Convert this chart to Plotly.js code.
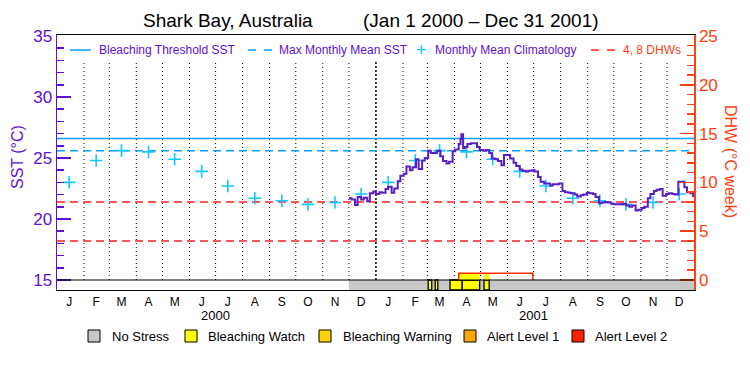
<!DOCTYPE html>
<html><head><meta charset="utf-8">
<script src="https://cdn.plot.ly/plotly-3.0.1.min.js"></script>
<style>html,body{margin:0;padding:0;background:#fff}</style>
</head><body><div id="chart" style="width:750px;height:375px"></div>
<script>
// ---------- data ----------
const years = [2000, 2001];
const monthLabels = ['J','F','M','A','M','J','J','A','S','O','N','D','J','F','M','A','M','J','J','A','S','O','N','D'];
const climValues = [23.0, 24.8, 25.6, 25.5, 24.9, 23.9, 22.7, 21.7, 21.5, 21.2, 21.35, 22.05];
const maxMonthlyMean = 25.6;
const bleachingThreshold = 26.6;
const dhwLevels = [4, 8];

const sstDates = ['2000-12-01','2000-12-04','2000-12-08','2000-12-11','2000-12-15','2000-12-18','2000-12-22','2000-12-25','2000-12-29',
'2001-01-01','2001-01-05','2001-01-08','2001-01-12','2001-01-15','2001-01-19','2001-01-22','2001-01-26','2001-01-29',
'2001-02-02','2001-02-05','2001-02-09','2001-02-12','2001-02-16','2001-02-19','2001-02-23','2001-02-26',
'2001-03-02','2001-03-05','2001-03-09','2001-03-12','2001-03-16','2001-03-19','2001-03-23','2001-03-26','2001-03-30',
'2001-04-02','2001-04-06','2001-04-08','2001-04-09','2001-04-11','2001-04-13','2001-04-16','2001-04-20','2001-04-23','2001-04-27','2001-04-30',
'2001-05-04','2001-05-07','2001-05-11','2001-05-14','2001-05-18','2001-05-21','2001-05-25','2001-05-28',
'2001-06-01','2001-06-04','2001-06-08','2001-06-11','2001-06-15','2001-06-18','2001-06-22','2001-06-25','2001-06-29',
'2001-07-02','2001-07-06','2001-07-09','2001-07-13','2001-07-16','2001-07-20','2001-07-23','2001-07-27','2001-07-30',
'2001-08-03','2001-08-06','2001-08-10','2001-08-13','2001-08-17','2001-08-20','2001-08-24','2001-08-27','2001-08-31',
'2001-09-03','2001-09-07','2001-09-10','2001-09-14','2001-09-17','2001-09-21','2001-09-24','2001-09-28',
'2001-10-01','2001-10-05','2001-10-08','2001-10-12','2001-10-15','2001-10-19','2001-10-22','2001-10-26','2001-10-29',
'2001-11-02','2001-11-05','2001-11-09','2001-11-12','2001-11-16','2001-11-19','2001-11-23','2001-11-26','2001-11-30',
'2001-12-03','2001-12-07','2001-12-10','2001-12-14','2001-12-17','2001-12-21','2001-12-24','2001-12-28','2001-12-31'];
const sstValues = [21.7,21.6,21.15,21.8,21.6,21.75,21.45,22.1,22.25,
22.05,22.2,22.15,22.45,22.65,22.15,22.5,23.1,23.55,
23.7,24.3,24.0,24.25,24.9,24.1,24.8,25.0,
25.6,25.4,25.4,25.6,25.15,24.75,24.55,24.7,25.55,
25.7,26.15,26.55,26.95,25.8,25.9,26.15,26.2,26.2,25.9,25.65,
25.6,25.65,25.4,24.95,24.9,24.75,24.4,25.25,
25.25,24.95,24.6,24.35,24.05,23.95,23.9,23.95,24.0,
23.9,23.45,23.05,22.9,22.9,22.75,22.85,22.85,22.9,
22.3,22.2,22.15,22.1,22.0,21.85,21.95,22.0,22.15,
22.1,22.05,21.8,21.3,21.35,21.4,21.35,21.25,
21.2,21.2,21.2,21.25,21.1,21.0,21.1,20.7,20.75,
20.9,21.0,21.7,22.05,22.3,22.4,22.45,21.9,22.05,
22.1,22.05,22.0,23.05,23.05,22.6,22.2,22.1,21.8];

// stress level periods (0 = no stress, 1 = bleaching watch)
const stressStart = ['2000-12-01','2001-03-02','2001-03-10','2001-03-27','2001-04-10','2001-05-05'];
const stressEnd   = ['2002-01-01','2001-03-06','2001-03-13','2001-04-10','2001-04-30','2001-05-11'];
const stressLevel = [0, 1, 1, 1, 1, 1];

// degree heating weeks
const dhwDates = ['2001-04-05','2001-04-06','2001-06-30'];
const dhwValues = [0, 0.7, 0];
const dhwFillStart = ['2001-04-06','2001-05-05'];
const dhwFillEnd = ['2001-04-30','2001-05-11'];
const dhwFillValue = [0.7, 0.7];

const legendNames = ['No Stress','Bleaching Watch','Bleaching Warning','Alert Level 1','Alert Level 2'];
const legendColors = ['#c8c8c8','#ffff00','#ffd200','#ffa500','#ff2000'];

// ---------- styling ----------
const PURPLE = '#6010d0';
const LINE_PURPLE = '#5a1ec8';
const RED = '#ff4010';
const BLUE = '#0aa0ff';
const CYAN = '#10c8ff';
const FONT = 'Liberation Sans, Arial, sans-serif';
const yRange = [14.18, 35.08];
const y2Range = [-1.025, 25.1];

const pad = n => String(n).padStart(2,'0');
const monthMids = [], monthStarts = [];
years.forEach(y => { for (let m = 1; m <= 12; m++) { monthMids.push(y + '-' + pad(m) + '-15'); monthStarts.push(y + '-' + pad(m) + '-01'); } });
const climDates = monthMids;
const climAll = climValues.concat(climValues);
const ms = (a, b) => new Date(b) - new Date(a);

const traces = [];
const xFull = ['2000-01-01','2002-01-01'];
traces.push({x: xFull, y: [bleachingThreshold, bleachingThreshold], type:'scatter', mode:'lines', line:{color:BLUE, width:1.5}, hoverinfo:'skip'});
traces.push({x: xFull, y: [maxMonthlyMean, maxMonthlyMean], type:'scatter', mode:'lines', line:{color:BLUE, width:1.5, dash:'8px,5px'}, hoverinfo:'skip'});
traces.push({x: climDates, y: climAll, type:'scatter', mode:'markers', marker:{symbol:'cross-thin', size:9, line:{color:CYAN, width:1.6}}});
traces.push({x: sstDates, y: sstValues, type:'scatter', mode:'lines', line:{color:LINE_PURPLE, width:2, shape:'hv'}});

const noIdx = stressLevel.map((l,i)=>i).filter(i=>stressLevel[i]===0);
const wIdx = stressLevel.map((l,i)=>i).filter(i=>stressLevel[i]===1);
traces.push({type:'bar', yaxis:'y2', x: noIdx.map(i=>stressStart[i]), width: noIdx.map(i=>ms(stressStart[i], stressEnd[i])), offset:0,
  base: y2Range[0], y: noIdx.map(()=> -y2Range[0]), marker:{color:legendColors[0], line:{width:0}}});
traces.push({type:'bar', yaxis:'y2', x: wIdx.map(i=>stressStart[i]), width: wIdx.map(i=>ms(stressStart[i], stressEnd[i])), offset:0,
  base: y2Range[0], y: wIdx.map(()=> -y2Range[0]), marker:{color:legendColors[1], line:{width:1.3, color:'black'}}});
traces.push({type:'bar', yaxis:'y2', x: dhwFillStart, width: dhwFillStart.map((s,i)=>ms(s, dhwFillEnd[i])), offset:0,
  base: 0, y: dhwFillValue, marker:{color:legendColors[1], line:{width:0}}});
traces.push({type:'scatter', yaxis:'y2', x: dhwDates, y: dhwValues, mode:'lines', line:{color:'#ff3000', width:1.5, shape:'hv'}});

const shapes = [];
dhwLevels.forEach(v => shapes.push({type:'line', xref:'paper', x0:0, x1:1, yref:'y2', y0:v, y1:v, layer:'below', line:{color:'#ff2020', width:1.5, dash:'8px,5px'}}));
monthStarts.slice(1).forEach(d => {
  const isYear = d.endsWith('-01-01');
  shapes.push({type:'line', xref:'x', x0:d, x1:d, yref:'y', y0:15, y1:33.0, layer:'below',
    line:{color:'black', width: isYear ? 1.5 : 1, dash: isYear ? '2px,2px' : '1px,3px'}});
});
shapes.push({type:'line', xref:'paper', x0:0, x1:1, yref:'y2', y0:0, y1:0, layer:'above', line:{color:'black', width:1.2}});
const px = v => (v - 57) / 637, py = v => (290 - v) / 255;
shapes.push({type:'line', xref:'paper', yref:'paper', x0:px(70), x1:px(91), y0:py(50), y1:py(50), line:{color:BLUE, width:1.5}});
shapes.push({type:'line', xref:'paper', yref:'paper', x0:px(248), x1:px(256), y0:py(50), y1:py(50), line:{color:BLUE, width:1.5}});
shapes.push({type:'line', xref:'paper', yref:'paper', x0:px(264), x1:px(272), y0:py(50), y1:py(50), line:{color:BLUE, width:1.5}});
shapes.push({type:'line', xref:'paper', yref:'paper', x0:px(591), x1:px(599), y0:py(50), y1:py(50), line:{color:'#ff2020', width:1.5}});
shapes.push({type:'line', xref:'paper', yref:'paper', x0:px(607), x1:px(615), y0:py(50), y1:py(50), line:{color:'#ff2020', width:1.5}});
const boxX = [88, 185, 319, 464, 572];
const textX = [110, 206, 341, 485, 593];
boxX.forEach((b,i) => shapes.push({type:'rect', xref:'paper', yref:'paper', x0:px(b), x1:px(b+12), y0:py(330), y1:py(342), fillcolor:legendColors[i], line:{color:'black', width:1}}));

const annotations = [];
const ann = (o) => annotations.push(Object.assign({showarrow:false, xref:'paper', yref:'paper', xanchor:'center', yanchor:'middle'}, o));
ann({x:px(97), y:py(50), xanchor:'left', text:'Bleaching Threshold SST', font:{size:12, color:PURPLE, family:FONT}});
ann({x:px(277), y:py(50), xanchor:'left', text:'Max Monthly Mean SST', font:{size:12, color:PURPLE, family:FONT}});
ann({x:px(421), y:py(50), text:'+', font:{size:18, color:CYAN, family:FONT}});
ann({x:px(433), y:py(50), xanchor:'left', text:'Monthly Mean Climatology', font:{size:12, color:PURPLE, family:FONT}});
ann({x:px(621), y:py(50), xanchor:'left', text:'4, 8 DHWs', font:{size:12, color:RED, family:FONT}});
legendNames.forEach((n,i) => ann({x:px(textX[i]), y:py(336), xanchor:'left', text:n, font:{size:13, color:'black', family:FONT}}));
years.forEach(y => ann({xref:'x', x: y + '-07-01', y:py(315), text:String(y), font:{size:13, color:'black', family:FONT}}));
ann({x:px(228), y:py(21), text:'Shark Bay, Australia', font:{size:19, color:'black', family:FONT}});
ann({x:px(481), y:py(21), text:'(Jan 1 2000 – Dec 31 2001)', font:{size:19, color:'black', family:FONT}});
ann({x:px(17), y:py(157), text:'SST (°C)', textangle:-90, font:{size:16, color:PURPLE, family:FONT}});
ann({x:px(731), y:py(161), text:'DHW (°C week)', textangle:90, font:{size:16, color:RED, family:FONT}});

const layout = {
  width:750, height:375, margin:{l:57, r:56, t:35, b:85},
  paper_bgcolor:'white', plot_bgcolor:'white', showlegend:false, barmode:'overlay',
  font:{family:FONT},
  xaxis:{type:'date', range:['2000-01-01','2002-01-01'], tickmode:'array', tickvals:monthMids, ticktext:monthLabels, ticks:'',
    showgrid:false, zeroline:false, showline:true, mirror:true, linecolor:'black', linewidth:1.2, tickfont:{size:12, color:'black'}},
  yaxis:{range:yRange, tick0:15, dtick:5, ticks:'inside', ticklen:14, tickwidth:1.5, tickcolor:PURPLE, showline:true, linecolor:PURPLE, linewidth:1.5,
    showgrid:false, zeroline:false, tickfont:{size:17, color:PURPLE}, minor:{tick0:15, dtick:1, ticks:'inside', ticklen:7, tickwidth:1.5, tickcolor:PURPLE, showgrid:false}},
  yaxis2:{overlaying:'y', side:'right', range:y2Range, tick0:0, dtick:5, ticks:'inside', ticklen:14, tickwidth:1.5, tickcolor:RED, showline:true, linecolor:RED, linewidth:1.5,
    showgrid:false, zeroline:false, tickfont:{size:17, color:RED}, minor:{tick0:0, dtick:1, ticks:'inside', ticklen:7, tickwidth:1.5, tickcolor:RED, showgrid:false}},
  shapes: shapes, annotations: annotations
};
Plotly.newPlot('chart', traces, layout, {staticPlot:true, displayModeBar:false});
</script></body></html>
